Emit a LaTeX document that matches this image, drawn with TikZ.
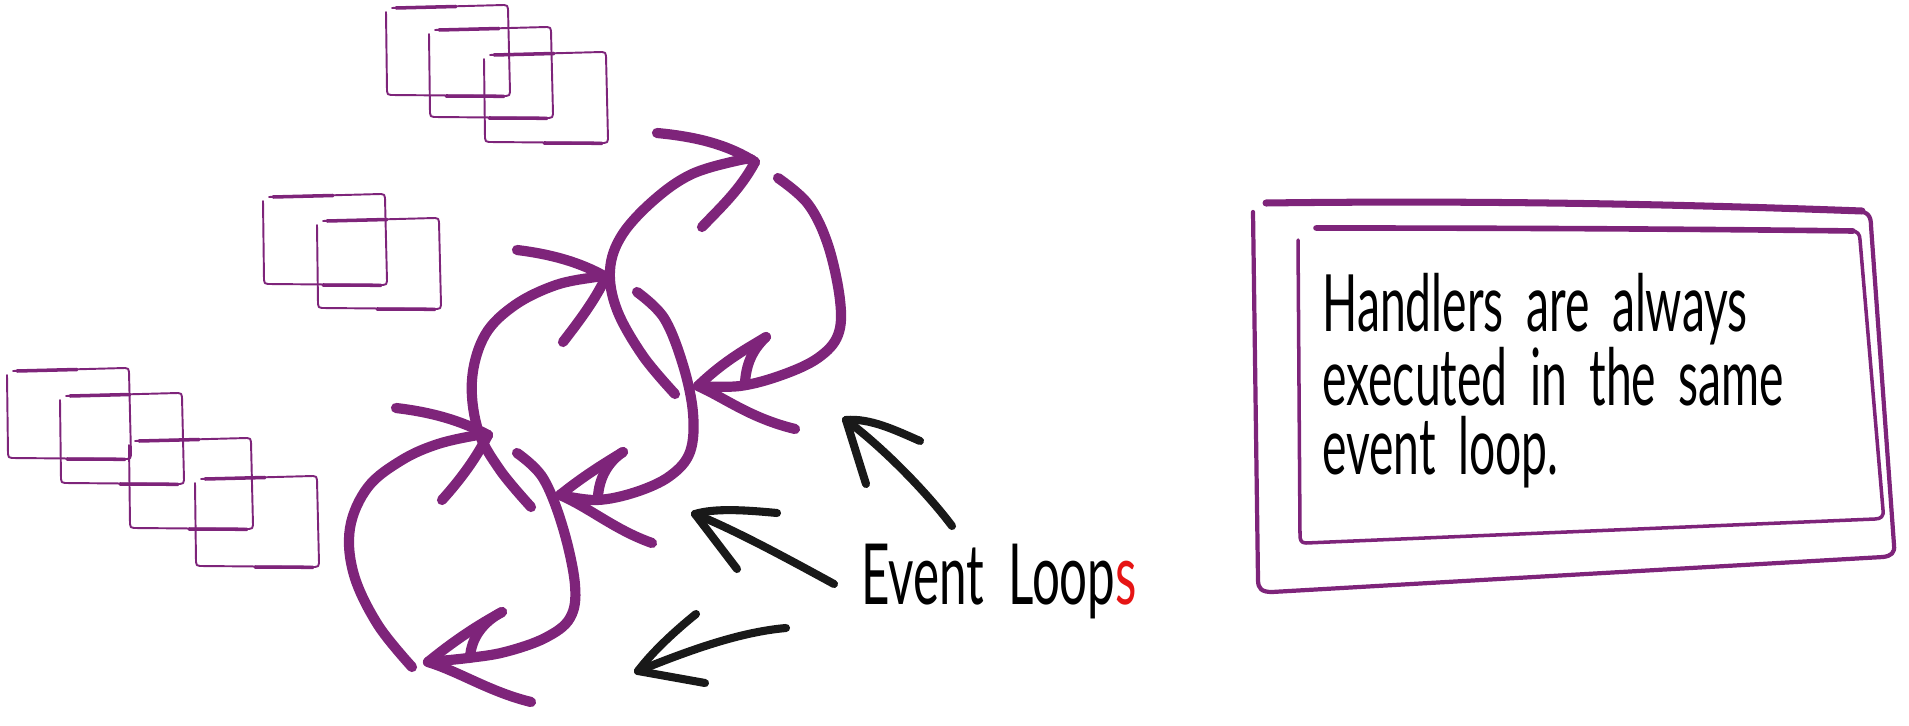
\documentclass[tikz,border=0pt]{standalone}
\usepackage{fontspec}
\newfontfamily\hand[FakeStretch=0.585,WordSpace=1.9]{Lato}
\definecolor{pp}{RGB}{126,36,122}
\definecolor{rd}{RGB}{230,20,20}
\definecolor{ink}{RGB}{25,25,25}
\begin{document}
\begin{tikzpicture}[x=0.02cm,y=-0.02cm,
  sqline/.style={draw=pp, line width=1.1pt, line cap=round, line join=round},
  sqthick/.style={draw=pp, line width=2pt, line cap=round},
  lp/.style={draw=pp, line width=5.8pt, line cap=round, line join=round},
  bk/.style={draw=ink, line width=4.6pt, line cap=round, line join=round},
  boxthick/.style={draw=pp, line width=4pt, line cap=round},
  boxthin/.style={draw=pp, line width=2.4pt, line cap=round, line join=round},
  txt/.style={font=\hand\fontsize{48}{54}\selectfont, anchor=base west, inner sep=0pt},
  note/.style={font=\hand\fontsize{45}{39.3}\selectfont, anchor=north west, inner sep=0pt, align=left},
  sqbox/.pic={
    \draw[sqline] (6,4) -- (118,1) .. controls (121,1) and (122,2) .. (122,5)
       -- (124,88) .. controls (124,91) and (123,92) .. (120,92) -- (5,91)
       .. controls (2,91) and (1,90) .. (1,87) -- (0,8);
    \draw[sqthick] (10,4) -- (70,2.5);
    \draw[sqthick] (60,92) -- (118,92.3);
  }]
\useasboundingbox (0,0) rectangle (1909,726);

% ---------- squares ----------
\pic at (386,4) {sqbox};
\pic at (429,26) {sqbox};
\pic at (484,51) {sqbox};

\pic at (263,193) {sqbox};
\pic at (317,217) {sqbox};

\pic at (7,367) {sqbox};
\pic at (60,392) {sqbox};
\pic at (129,437) {sqbox};
\pic at (195,475) {sqbox};

% ---------- loop 1 ----------
\draw[lp] plot[smooth, tension=0.6] coordinates {(675,394) (643,356) (617,310) (610,270) (622,235) (654,200) (692,174) (740,160) (752,160)};
\draw[lp] (657,133) .. controls (700,137) and (730,146) .. (755,162);
\draw[lp] (755,162) .. controls (740,190) and (720,208) .. (702,227);
\draw[lp] plot[smooth, tension=0.6] coordinates {(778,178) (808,204) (828,245) (840,300) (838,335) (818,358) (782,375) (740,386) (698,386)};
\draw[lp] (698,386) .. controls (725,360) and (748,348) .. (766,337);
\draw[lp] (745,383) .. controls (746,365) and (752,350) .. (766,337);
\draw[lp] (698,386) .. controls (725,398) and (750,418) .. (795,429);

% ---------- loop 2 ----------
\draw[lp] plot[smooth, tension=0.6] coordinates {(531,507) (500,470) (478,430) (472,380) (485,335) (515,305) (556,285) (596,277) (606,277)};
\draw[lp] (517,250) .. controls (550,254) and (580,262) .. (606,277);
\draw[lp] (606,277) .. controls (595,300) and (580,320) .. (563,342);
\draw[lp] plot[smooth, tension=0.6] coordinates {(637,292) (664,318) (683,365) (693,413) (690,452) (670,476) (636,492) (597,500) (560,495)};
\draw[lp] (560,495) .. controls (585,475) and (605,463) .. (623,452);
\draw[lp] (598,497) .. controls (599,478) and (608,462) .. (623,452);
\draw[lp] (560,495) .. controls (590,508) and (615,530) .. (652,543);

% ---------- loop 3 ----------
\draw[lp] plot[smooth, tension=0.6] coordinates {(412,667) (378,625) (354,575) (350,528) (368,487) (402,460) (438,444) (478,435) (488,435)};
\draw[lp] (396,408) .. controls (430,412) and (460,420) .. (488,435);
\draw[lp] (488,435) .. controls (475,460) and (460,480) .. (442,500);
\draw[lp] plot[smooth, tension=0.6] coordinates {(517,453) (543,478) (563,528) (575,585) (570,618) (545,638) (505,652) (468,658) (428,662)};
\draw[lp] (428,662) .. controls (455,640) and (478,625) .. (502,612);
\draw[lp] (470,658) .. controls (471,638) and (483,622) .. (502,612);
\draw[lp] (428,662) .. controls (460,672) and (490,692) .. (531,702);

% ---------- black arrows ----------
\coordinate (a1s) at (952,526);
\coordinate (a1t) at (846,420);
\coordinate (a2s) at (834,584);
\coordinate (a2t) at (695,514);
\coordinate (a3s) at (786,628);
\coordinate (a3t) at (638,671);
\draw[bk] (a1s) .. controls (925,490) and (880,445) .. (a1t);
\draw[bk] (a1t) .. controls (870,418) and (895,430) .. (920,441);
\draw[bk] (a1t) -- (866,484);
\draw[bk] (a2s) .. controls (790,560) and (735,530) .. (a2t);
\draw[bk] (a2t) .. controls (715,508) and (745,510) .. (777,513);
\draw[bk] (a2t) -- (737,569);
\draw[bk] (a3s) .. controls (740,632) and (690,650) .. (a3t);
\draw[bk] (a3t) .. controls (650,655) and (670,635) .. (696,614);
\draw[bk] (a3t) -- (705,683);

% ---------- labels ----------
\node[txt] (el) at (861,604) {Event Loop{\color{rd}s}};

% ---------- note box ----------
\draw[boxthin] (1858,211) .. controls (1868,212) and (1871,216) .. (1871,226)
   -- (1894,545) .. controls (1895,553) and (1891,556) .. (1883,557)
   -- (1272,592) .. controls (1262,592) and (1258,589) .. (1258,580)
   -- (1253,212);
\draw[boxthick] (1266,203) .. controls (1500,200) and (1700,205) .. (1862,211);
\draw[boxthin, line width=2pt] (1852,231) .. controls (1857,231) and (1860,234) .. (1860,240)
   -- (1883,510) .. controls (1884,516) and (1881,519) .. (1875,519)
   -- (1306,543) .. controls (1301,543) and (1300,540) .. (1300,535)
   -- (1298,240);
\draw[boxthick, line width=3.2pt] (1316,228) .. controls (1500,228) and (1700,229) .. (1853,231);

\node[note] (nt) at (1322,273) {Handlers are always\\executed in the same\\event loop.};
\end{tikzpicture}
\end{document}
